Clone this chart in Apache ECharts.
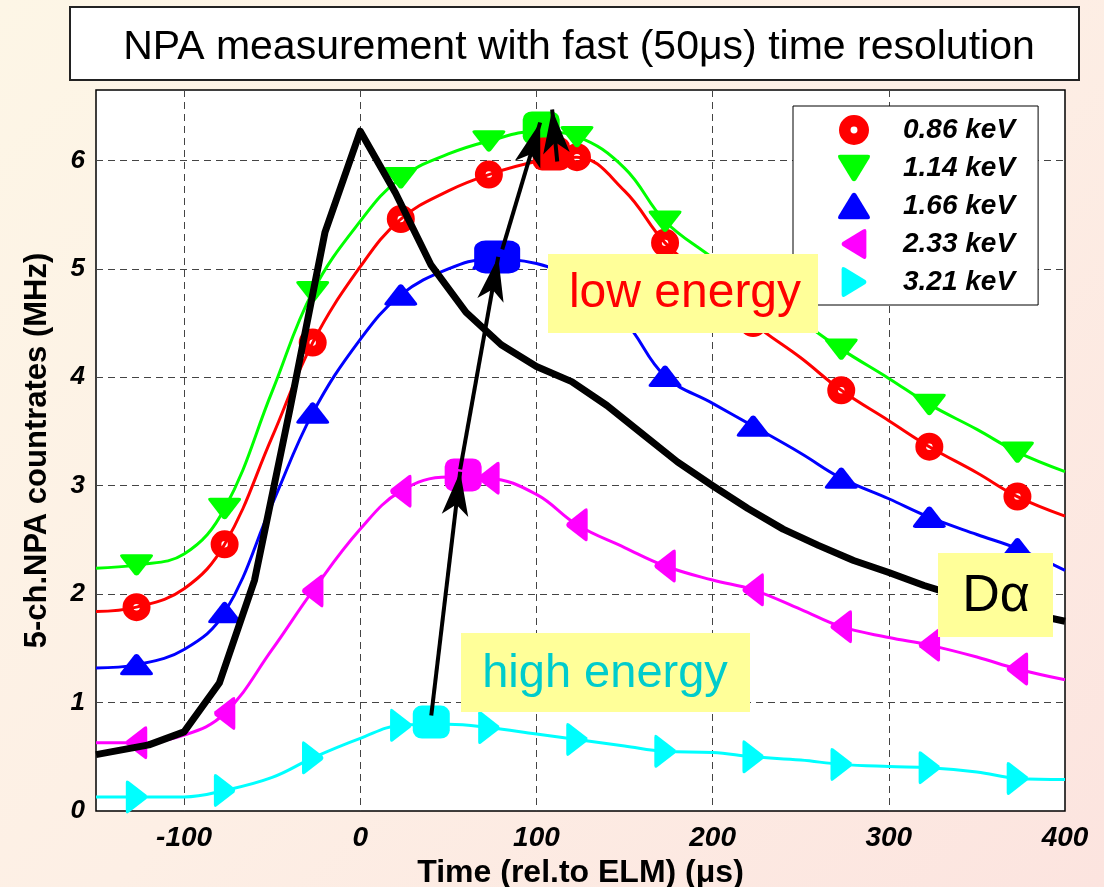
<!DOCTYPE html>
<html><head><meta charset="utf-8">
<script src="https://cdn.jsdelivr.net/npm/echarts@6/dist/echarts.min.js"></script>
<style>
html,body{margin:0;padding:0;width:1104px;height:887px;overflow:hidden;
background:linear-gradient(135deg,#fdf6e6 0%,#fdefe5 50%,#fce4df 100%);}
#c{width:1104px;height:887px;}
</style></head><body><div id="c"></div>
<script>
// ---- data ----
const lineT   = [-150,-127,-100,-77,-50,-27,0,23,50,73,100,123,150,173,200,223,250,273,300,323,350,373,400];
const red086  = [1.84,1.88,2.05,2.46,3.45,4.32,5.02,5.46,5.72,5.87,5.99,6.03,5.72,5.24,4.86,4.50,4.18,3.88,3.60,3.36,3.12,2.90,2.72];
const grn114  = [2.24,2.27,2.37,2.79,3.87,4.79,5.44,5.84,6.06,6.18,6.27,6.22,5.93,5.44,5.10,4.80,4.52,4.26,3.99,3.75,3.52,3.31,3.13];
const blu166  = [1.32,1.35,1.49,1.83,2.83,3.67,4.35,4.76,5.00,5.09,5.05,4.88,4.52,4.01,3.76,3.55,3.30,3.07,2.88,2.71,2.55,2.42,2.22];
const mag233  = [0.63,0.63,0.70,0.90,1.49,2.03,2.60,2.95,3.08,3.07,2.92,2.64,2.43,2.26,2.13,2.04,1.86,1.70,1.60,1.53,1.42,1.31,1.21];
const cyn321  = [0.13,0.13,0.13,0.19,0.31,0.49,0.67,0.79,0.80,0.77,0.71,0.66,0.60,0.55,0.54,0.50,0.47,0.43,0.41,0.40,0.36,0.30,0.29];
const markerT = [-127,-77,-27,23,73,123,173,223,273,323,373];

const daT = [-150,-120,-100,-80,-60,-40,-20,0,20,40,60,80,100,120,140,160,180,200,220,240,260,280,300,320,340,360,380,400];
const daV = [0.52,0.61,0.73,1.18,2.13,3.70,5.34,6.27,5.70,5.04,4.60,4.30,4.10,3.96,3.74,3.48,3.22,3.00,2.79,2.60,2.45,2.31,2.20,2.08,1.98,1.90,1.82,1.75];

const peakT = [40.3, 58.4, 77.7, 102.7, 108.4];
const peakV = [0.82, 3.10, 5.11, 6.30, 6.06];

const arrowFromT = [40.3, 56.7, 80.6, 111.8];
const arrowFromV = [0.88, 3.15, 5.18, 5.99];
const arrowToT   = [56.7, 78.3, 102.1, 108.9];
const arrowToV   = [3.13, 5.11, 6.35, 6.47];

const names  = ['0.86 keV','1.14 keV','1.66 keV','2.33 keV','3.21 keV'];
const xTicks = [-100,0,100,200,300,400];
const yTicks = [0,1,2,3,4,5,6];
const titleText = 'NPA measurement with fast (50\u03bcs) time resolution';

// ---- styles ----
const colors = ['#ff0000','#00ff00','#0000ff','#ff00ff','#00ffff'];
const RING  = 'path://M13,0 A13,13 0 1,1 13,26 A13,13 0 1,1 13,0 Z M13,10 A3,3 0 1,0 13,16 A3,3 0 1,0 13,10 Z';
const DOWN  = 'path://M1,0 L9,0 Q10,0 9.5,1 L5.6,7.4 Q5,8 4.4,7.4 L0.5,1 Q0,0 1,0 Z';
const UP    = 'path://M4.4,0.6 Q5,0 5.6,0.6 L9.5,7 Q10,8 9,8 L1,8 Q0,8 0.5,7 Z';
const LEFT  = 'path://M0.6,4.4 L7,0.5 Q8,0 8,1 L8,9 Q8,10 7,9.5 L0.6,5.6 Q0,5 0.6,4.4 Z';
const RIGHT = 'path://M1,0.5 L7.4,4.4 Q8,5 7.4,5.6 L1,9.5 Q0,10 0,9 L0,1 Q0,0 1,0.5 Z';
const symbols = [RING, DOWN, UP, LEFT, RIGHT];
const sizes = [28, [33,26], [33,26], [26,33], [26,33]];
const values = [red086, grn114, blu166, mag233, cyn321];
const FF = '"Liberation Sans", Arial, Helvetica, sans-serif';

const series = [];
values.forEach((v,i)=>{
  series.push({
    type:'line', name:names[i]+' fit', data:lineT.map((t,k)=>[t,v[k]]),
    smooth:0.4, showSymbol:false, symbol:'none', silent:true, z:2,
    lineStyle:{color:colors[i], width:3}
  });
});
values.forEach((v,i)=>{
  const pts = lineT.map((t,k)=>[t,v[k]]).filter(p=>markerT.includes(p[0]));
  series.push({
    type:'scatter', name:names[i], data:pts, symbol:symbols[i], symbolKeepAspect:true,
    symbolSize: sizes[i], z:3, silent:true,
    itemStyle:{color:colors[i], opacity:1, borderWidth:0}
  });
});
series.push({
  type:'scatter', name:'peaks', silent:true, z:3,
  symbol:'roundRect',
  data: peakT.map((t,k)=>({value:[t,peakV[k]], symbolSize: k===2?[46,33]:[37,33],
        itemStyle:{opacity:1, color:[colors[4],colors[3],colors[2],colors[1],colors[0]][k]}}))
});
series.push({
  type:'line', name:'D\u03b1', data:daT.map((t,k)=>[t,daV[k]]), showSymbol:false, symbol:'none',
  silent:true, z:4, lineStyle:{color:'#000', width:7, join:'round'}
});
series.push({
  type:'line', name:'arrows', data:[], silent:true, z:6,
  markLine:{silent:true, animation:false, symbol:['none','arrow'], symbolSize:[20,44],
    label:{show:false}, emphasis:{disabled:true},
    lineStyle:{color:'#000', width:4, type:'solid'},
    data: arrowFromT.map((t,k)=>[{coord:[t,arrowFromV[k]]},{coord:[arrowToT[k],arrowToV[k]]}])
  }
});

const chart = echarts.init(document.getElementById('c'), null, {renderer:'canvas'});
chart.setOption({
  animation:false,
  backgroundColor:'transparent',
  title:{text:titleText, left:574, textAlign:'center', top:22,
    textStyle:{fontFamily:FF, fontSize:41, fontWeight:'normal', color:'#000'}},
  grid:{left:96, right:39, top:90, bottom:76, show:true, backgroundColor:'#fff',
    borderColor:'#000', borderWidth:1.5, outerBoundsMode:'none', containLabel:false},
  legend:{
    data: names.map((n,i)=>({name:n, icon:symbols[i]})),
    orient:'vertical', left:793, top:106,
    padding:[9,23,8,45], itemGap:8, itemWidth:32, itemHeight:30,
    backgroundColor:'#fff', borderColor:'#000', borderWidth:1, borderRadius:0,
    selectedMode:false,
    textStyle:{fontFamily:FF, fontSize:28, lineHeight:30, fontWeight:'bold', fontStyle:'italic', color:'#000', padding:[0,0,0,28]}
  },
  xAxis:{type:'value', min:-150, max:400, interval:50,
    axisLine:{show:false}, axisTick:{show:false},
    axisLabel:{formatter:v=>xTicks.includes(v)?String(v):'', fontFamily:FF, fontSize:28,
      fontWeight:'bold', fontStyle:'italic', color:'#000', margin:13},
    splitLine:{show:true, showMinLine:true, showMaxLine:false,
      lineStyle:{color:['rgba(0,0,0,0)','#444'], type:[7,5], width:1}},
    name:'Time (rel.to ELM) (\u03bcs)', nameLocation:'middle', nameGap:43,
    nameTextStyle:{fontFamily:FF, fontSize:32, fontWeight:'bold', color:'#000'}
  },
  yAxis:{type:'value', min:0, max:6.65, interval:1,
    axisLine:{show:false}, axisTick:{show:false},
    axisLabel:{formatter:v=>yTicks.includes(v)?String(v):'', fontFamily:FF, fontSize:26,
      fontWeight:'bold', fontStyle:'italic', color:'#000', margin:11},
    splitLine:{show:true, showMinLine:false, showMaxLine:false,
      lineStyle:{color:'#444', type:[7,5], width:1}},
    name:'5-ch.NPA countrates (MHz)', nameLocation:'middle', nameGap:43, nameRotate:90,
    nameTextStyle:{fontFamily:FF, fontSize:31, fontWeight:'bold', color:'#000'}
  },
  graphic:[
    {type:'rect', z:-1, shape:{x:70,y:7,width:1009,height:73}, style:{fill:'#fff', stroke:'#222', lineWidth:2}},
    {type:'rect', z:100, shape:{x:548,y:254,width:270,height:79}, style:{fill:'#ffff99'}},
    {type:'text', z:101, x:685, y:294, style:{text:'low energy', fill:'#ff0000', fontSize:48, fontFamily:FF, align:'center', verticalAlign:'middle'}},
    {type:'rect', z:100, shape:{x:461,y:633,width:289,height:79}, style:{fill:'#ffff99'}},
    {type:'text', z:101, x:605, y:674, style:{text:'high energy', fill:'#00cccc', fontSize:47, fontFamily:FF, align:'center', verticalAlign:'middle'}},
    {type:'rect', z:100, shape:{x:938,y:553,width:115,height:84}, style:{fill:'#ffff99'}},
    {type:'text', z:101, x:996, y:597, style:{text:'D\u03b1', fill:'#000', fontSize:52, fontFamily:FF, align:'center', verticalAlign:'middle'}}
  ],
  series: series
});
</script></body></html>
